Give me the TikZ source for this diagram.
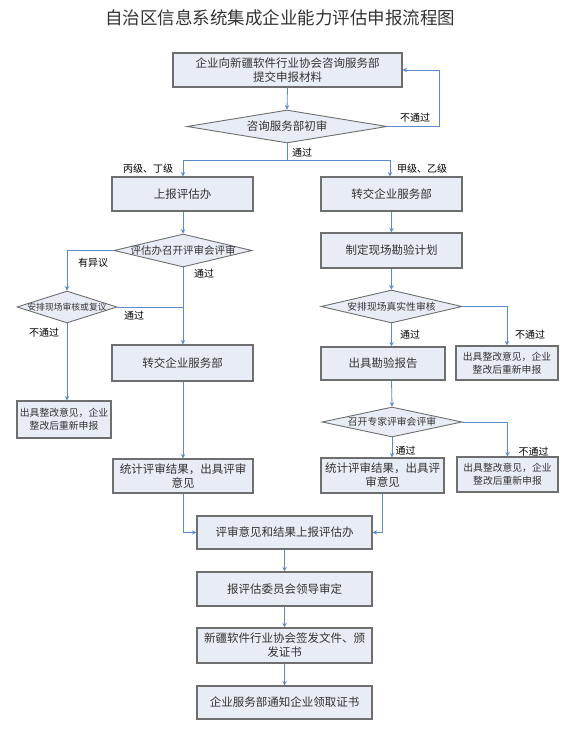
\documentclass[tikz,border=0pt]{standalone}
\usepackage{fontspec}
\setmainfont{Noto Sans CJK SC}
\usetikzlibrary{shapes.geometric,arrows.meta}
\definecolor{boxfill}{HTML}{E8ECF5}
\definecolor{boxdraw}{HTML}{6E6E6E}
\definecolor{linecol}{HTML}{5A8AD0}
\definecolor{txt}{HTML}{333333}
\tikzset{
  box/.style={draw=boxdraw, line width=1.1pt, fill=boxfill, inner sep=1pt, align=center, text=txt, font=\fontsize{11.5}{14}\selectfont},
  smallbox/.style={box, font=\fontsize{9.8}{13}\selectfont},
  dia/.style={draw=boxdraw, line width=0.9pt, fill=boxfill, shape=diamond, inner sep=0pt, aspect=4},
  diatext/.style={text=txt, inner sep=0pt},
  lab/.style={text=black, inner sep=0pt, font=\fontsize{10}{12}\selectfont},
  conn/.style={draw=linecol, line width=0.8pt},
  arr/.style={conn, -{Stealth[length=4.5pt,width=4.5pt]}},
}
\begin{document}
\begin{tikzpicture}[x=1pt,y=-1pt]
\useasboundingbox (0,0) rectangle (574,730);
\node[text=txt, font=\fontsize{17.5}{20}\selectfont] (title) at (280,18) {自治区信息系统集成企业能力评估申报流程图};

\node[box, minimum width=229pt, minimum height=34pt] (b1) at (287.5,70) {企业向新疆软件行业协会咨询服务部\\提交申报材料};
\node[dia, minimum width=200pt, minimum height=33pt] (d1) at (287,126.5) {};
\node[diatext, font=\fontsize{11.5}{14}\selectfont] (d1t) at (d1) {咨询服务部初审};

\node[box, minimum width=141pt, minimum height=34pt] (b2) at (182.5,194) {上报评估办};
\node[dia, minimum width=138pt, minimum height=33pt] (d2) at (183,250.5) {};
\node[diatext, font=\fontsize{10.5}{12}\selectfont] (d2t) at (d2) {评估办召开评审会评审};
\node[dia, minimum width=100pt, minimum height=32pt] (d3) at (67,307) {};
\node[diatext, font=\fontsize{8.8}{10}\selectfont] (d3t) at (d3) {安排现场审核或复议};
\node[box, minimum width=141pt, minimum height=36pt] (b3) at (182.5,363) {转交企业服务部};
\node[smallbox, minimum width=94pt, minimum height=37pt] (b4) at (64,419.5) {出具整改意见，企业\\整改后重新申报};
\node[box, minimum width=140pt, minimum height=34pt] (b5) at (183,476) {统计评审结果，出具评审\\意见};

\node[box, minimum width=141pt, minimum height=34pt] (r1) at (391.5,194) {转交企业服务部};
\node[box, minimum width=141pt, minimum height=35pt] (r2) at (391.5,250.5) {制定现场勘验计划};
\node[dia, minimum width=141pt, minimum height=33pt] (rd1) at (391.5,306.5) {};
\node[diatext, font=\fontsize{9.8}{12}\selectfont] (rd1t) at (rd1) {安排现场真实性审核};
\node[smallbox, minimum width=102pt, minimum height=34pt] (rx1) at (507,363) {出具整改意见，企业\\整改后重新申报};
\node[box, minimum width=124pt, minimum height=33pt] (r3) at (383,363.5) {出具勘验报告};
\node[dia, minimum width=140pt, minimum height=30pt] (rd2) at (392,422) {};
\node[diatext, font=\fontsize{9.8}{12}\selectfont] (rd2t) at (rd2) {召开专家评审会评审};
\node[smallbox, minimum width=101pt, minimum height=35pt] (rx2) at (507.5,474.5) {出具整改意见，企业\\整改后重新申报};
\node[box, minimum width=123pt, minimum height=35pt] (r4) at (382.5,475.5) {统计评审结果，出具评\\审意见};

\node[box, minimum width=175pt, minimum height=33pt] (m1) at (284.5,532.5) {评审意见和结果上报评估办};
\node[box, minimum width=175pt, minimum height=34pt] (m2) at (284.5,589) {报评估委员会领导审定};
\node[box, minimum width=175pt, minimum height=35pt] (m3) at (284.5,645.5) {新疆软件行业协会签发文件、颁\\发证书};
\node[box, minimum width=175pt, minimum height=33pt] (m4) at (284.5,702.5) {企业服务部通知企业领取证书};

% connectors
\coordinate (loop) at (439,126.5);
\coordinate (split) at (287,160);
\coordinate (splitL) at (183,160);
\coordinate (splitR) at (390,160);
\coordinate (join) at (183,307);
\draw[arr] (b1.south) -- (d1.north);
\draw[arr] (d1.east) -- (loop) |- (b1.east);
\draw[conn] (d1.south) -- (split);
\draw[arr] (split) -- (splitL) -- (splitL |- b2.north);
\draw[arr] (split) -- (splitR) -- (splitR |- r1.north);
\draw[arr] (b2.south -| d2.north) -- (d2.north);
\draw[arr] (d2.west) -| (d3.north);
\draw[arr] (d2.south) -- (d2.south |- b3.north);
\draw[conn] (d3.east) -- (join);
\draw[arr] (d3.south) -- (d3.south |- b4.north);
\draw[arr] (b3.south -| b5.north) -- (b5.north);
\draw[arr] (r1.south) -- (r2.north);
\draw[arr] (r2.south) -- (rd1.north);
\draw[arr] (rd1.east) -| (rx1.north);
\draw[arr] (rd1.south) -- (rd1.south |- r3.north);
\draw[arr] (rd1.south |- r3.south) -- (rd2.north);
\draw[arr] (rd2.east) -| (rx2.north);
\draw[arr] (rd2.south) -- (rd2.south |- r4.north);
\draw[arr] (b5.south) |- (m1.west);
\draw[arr] (r4.south) |- (m1.east);
\draw[arr] (m1.south) -- (m2.north);
\draw[arr] (m2.south) -- (m3.north);
\draw[arr] (m3.south) -- (m4.north);

% labels
\node[lab] (l1) at (415,118) {不通过};
\node[lab] (l2) at (302,153) {通过};
\node[lab] (l3) at (148,169) {丙级、丁级};
\node[lab] (l4) at (422,169) {甲级、乙级};
\node[lab] (l5) at (93,263) {有异议};
\node[lab] (l6) at (204,274) {通过};
\node[lab] (l7) at (134,316) {通过};
\node[lab] (l8) at (44,333) {不通过};
\node[lab] (l9) at (410,335) {通过};
\node[lab] (l10) at (530,335) {不通过};
\node[lab] (l11) at (405.5,451) {通过};
\node[lab] (l12) at (533.5,452) {不通过};
\end{tikzpicture}
\end{document}
